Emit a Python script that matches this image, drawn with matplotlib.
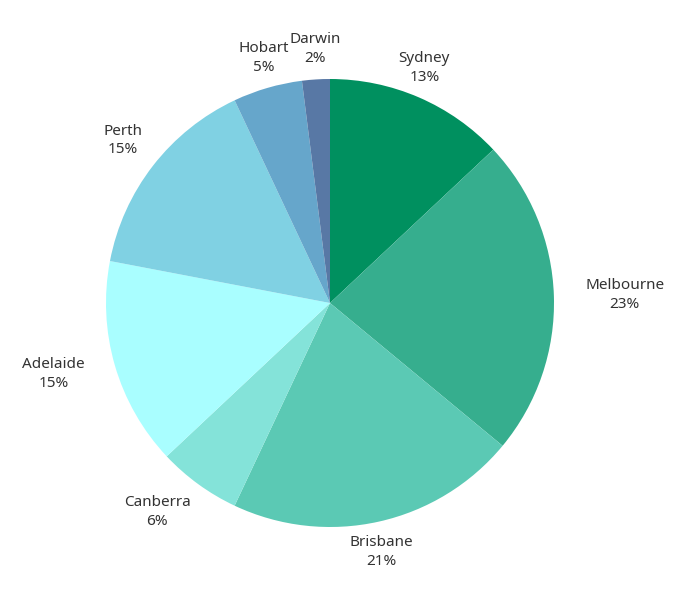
import numpy as np
import matplotlib
matplotlib.use("Agg")
import matplotlib.pyplot as plt

cities = ["Sydney", "Melbourne", "Brisbane", "Canberra", "Adelaide", "Perth", "Hobart", "Darwin"]
shares = [13, 23, 21, 6, 15, 15, 5, 2]
colors = ["#00905f", "#36ae8e", "#5bc9b4", "#84e3d9", "#a9feff", "#80d1e3", "#66a6cb", "#5878a5"]

plt.rcParams['font.family'] = ['Noto Sans', 'DejaVu Sans']

W, H = 680, 606
cx, cy, R = 330, 303, 224
fig = plt.figure(figsize=(W / 100, H / 100), dpi=100)
ax = fig.add_axes([(cx - R) / W, (H - cy - R) / H, 2 * R / W, 2 * R / H])

wedges, _ = ax.pie(shares, colors=colors, startangle=90, counterclock=False,
                   radius=1, wedgeprops=dict(linewidth=0))
ax.set_xlim(-1, 1); ax.set_ylim(-1, 1)
ax.set_aspect('equal')
ax.axis('off')

# labels outside each wedge
for w, name, v in zip(wedges, cities, shares):
    ang = np.deg2rad((w.theta1 + w.theta2) / 2)
    c, s = np.cos(ang), np.sin(ang)
    ha = 'center' if abs(c) < 0.45 else ('left' if c > 0 else 'right')
    va = 'center' if abs(s) < 0.45 else ('bottom' if s > 0 else 'top')
    d = 1.06 if va != 'center' else 1.14
    ax.text(d * c, d * s, f"{name}\n{v}%", ha=ha, va=va, multialignment='center',
            fontsize=11, color='#333333', linespacing=1.35, clip_on=False)

fig.savefig("out.png", dpi=100, facecolor='white')
